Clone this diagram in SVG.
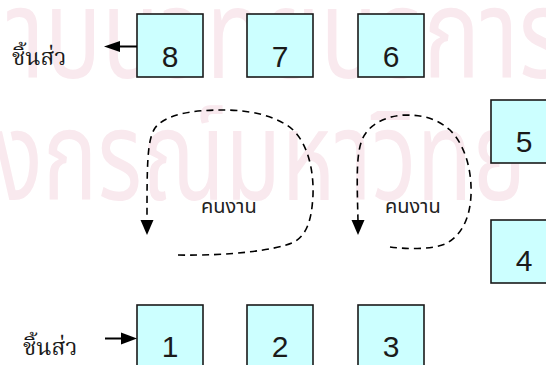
<svg xmlns="http://www.w3.org/2000/svg" width="546" height="365" viewBox="0 0 546 365">
  <defs>
    <style>
      .wm { font-family: "Noto Sans Thai", "Noto Sans Thai Looped", "Loma", "Garuda", "Tlwg Typo", sans-serif; font-size: 126px; fill: #f9e9ee; }
      .box rect { fill: #ccffff; stroke: #1a1a1a; stroke-width: 1.6; }
      .num { font-family: "Liberation Sans", Arial, sans-serif; font-size: 30px; fill: #1a1a1a; text-anchor: middle; }
      .lbl { font-family: "Noto Serif Thai", "Noto Sans Thai", "Loma", "Norasi", serif; font-size: 23px; fill: #1a1a1a; }
      .lbl2 { font-family: "Noto Sans Thai", "Loma", "Garuda", sans-serif; font-size: 20px; fill: #222; }
      .solid { stroke: #000; stroke-width: 2; fill: none; }
      .dash { stroke: #000; stroke-width: 1.6; fill: none; stroke-dasharray: 7 5; }
    </style>
  </defs>
  <rect width="546" height="365" fill="#ffffff"/>

  <!-- background stamp -->
  <g id="stamp">
    <text class="wm" x="-105" y="78" textLength="670" lengthAdjust="spacingAndGlyphs">สถาบันวิทยบริการ</text>
    <text class="wm" x="-205" y="200" textLength="875" lengthAdjust="spacingAndGlyphs">จุฬาลงกรณ์มหาวิทยาลัย</text>
  </g>

  <!-- stations, top row -->
  <g id="n8" class="box"><rect x="137" y="14" width="66" height="63"/><text class="num" x="170" y="67">8</text></g>
  <g id="n7" class="box"><rect x="247" y="14" width="66" height="63"/><text class="num" x="280" y="67">7</text></g>
  <g id="n6" class="box"><rect x="358" y="14" width="66" height="63"/><text class="num" x="391" y="67">6</text></g>
  <!-- stations, right column -->
  <g id="n5" class="box"><rect x="491" y="100" width="66" height="63"/><text class="num" x="524" y="152">5</text></g>
  <g id="n4" class="box"><rect x="491" y="220" width="66" height="63"/><text class="num" x="524" y="271">4</text></g>
  <!-- stations, bottom row -->
  <g id="n1" class="box"><rect x="137" y="305" width="66" height="63"/><text class="num" x="170" y="357">1</text></g>
  <g id="n2" class="box"><rect x="247" y="305" width="66" height="63"/><text class="num" x="280" y="357">2</text></g>
  <g id="n3" class="box"><rect x="358" y="305" width="66" height="63"/><text class="num" x="391" y="357">3</text></g>

  <!-- labels -->
  <g id="out-label"><text class="lbl" x="12" y="65">ชิ้นส่ว</text></g>
  <g id="in-label"><text class="lbl" x="23" y="355">ชิ้นส่ว</text></g>
  <g id="worker-a"><text class="lbl2" x="201" y="213">คนงาน</text></g>
  <g id="worker-b"><text class="lbl2" x="385" y="213">คนงาน</text></g>

  <!-- connectors -->
  <g id="connectors">
    <!-- part leaving station 8 -->
    <line class="solid" x1="137" y1="46.5" x2="118" y2="46.5"/>
    <polygon points="104,46.5 120,41 120,52" fill="#000"/>
    <!-- part entering station 1 -->
    <line class="solid" x1="105" y1="338.5" x2="124" y2="338.5"/>
    <polygon points="137,338.5 121,332.5 121,344.5" fill="#000"/>
    <!-- worker loop, left -->
    <path class="dash" d="M178,255 C230,256 275,250 292,243 C310,235 312,212 313,195 C314,165 305,135 285,124 C265,112 240,110 222,110 C190,110 165,115 155,128 C147,140 147,165 147,221"/>
    <polygon points="147,235 140.5,220 153.5,220" fill="#000"/>
    <!-- worker loop, right -->
    <path class="dash" d="M390,247 C405,249 430,250 445,244 C460,237 470,220 471,195 C472,170 465,145 450,130 C435,117 420,115 404,115 C385,116 368,125 362,140 C356,155 357,180 358,221"/>
    <polygon points="358,235 351.5,220 364.5,220" fill="#000"/>
  </g>
</svg>
